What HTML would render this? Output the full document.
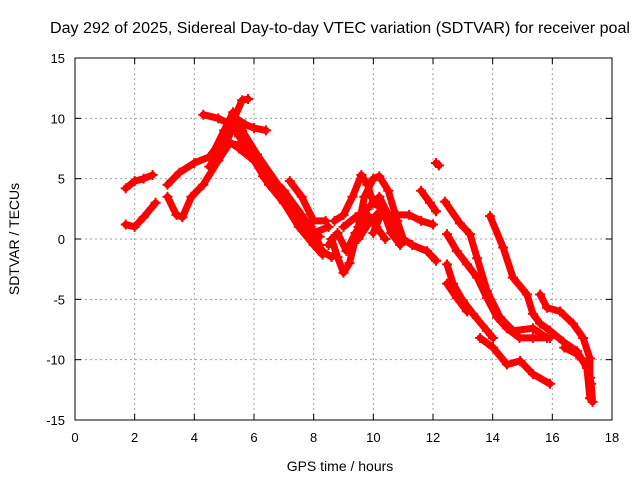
<!DOCTYPE html>
<html><head><meta charset="utf-8">
<style>
body{margin:0;background:#fff;}
svg{display:block;font-family:"Liberation Sans",sans-serif;}
</style></head>
<body>
<svg id="chart" width="640" height="480" viewBox="0 0 640 480">
<rect width="640" height="480" fill="#fff"/>
<text x="340" y="33" font-size="15.5" text-anchor="middle" textLength="580" lengthAdjust="spacingAndGlyphs">Day 292 of 2025, Sidereal Day-to-day VTEC variation (SDTVAR) for receiver poal</text>
<g id="grid"></g>
<g id="marks"></g>
<rect x="75" y="58" width="537" height="362" fill="none" stroke="#000" stroke-width="1"/>
<g id="ticks"></g>
<text x="340" y="471" font-size="14" text-anchor="middle">GPS time / hours</text>
<text x="19" y="239" font-size="14" text-anchor="middle" transform="rotate(-90 19 239)">SDTVAR / TECUs</text>
</svg>
<script>
const xTicks=[0,2,4,6,8,10,12,14,16,18];
const yTicks=[-15,-10,-5,0,5,10,15];
const trackA=[[1.7,4.2],[2.0,4.8],[2.3,5.0],[2.6,5.3]];
const trackB=[[1.7,1.2],[2.0,1.0],[2.3,1.8],[2.7,3.0]];
const trackC=[[3.1,4.5],[3.5,5.5],[4.0,6.3],[4.5,6.8],[5.0,8.5],[5.3,9.8],[5.6,11.5],[5.8,11.6]];
const trackD=[[3.1,3.5],[3.4,2.0],[3.6,1.8],[3.9,3.5],[4.3,4.5],[4.8,6.5],[5.2,8.0],[5.5,7.5],[6.0,6.5],[6.5,5.0],[7.0,3.5],[7.5,2.0],[8.0,0.0],[8.3,-1.0],[8.6,-1.5]];
const trackE=[[4.5,6.0],[5.0,7.5],[5.4,10.0],[5.7,9.5],[6.0,9.2],[6.4,9.0]];
const trackF=[[4.3,10.3],[4.8,10.0],[5.2,9.5],[5.5,8.5],[6.0,6.5],[6.5,4.5],[7.0,3.0],[7.5,1.0],[8.0,-0.5],[8.3,-1.3]];
const trackG=[[5.0,8.0],[5.5,7.8],[6.2,6.0],[7.0,4.0],[7.6,2.0],[8.0,0.5],[8.5,1.0]];
const trackH=[[7.2,4.8],[7.6,3.5],[8.0,1.5],[8.4,1.5]];
const trackI=[[6.3,5.2],[7.0,3.0],[7.6,1.5],[8.2,0.2]];
const trackI2=[[4.6,7.0],[5.0,9.0],[5.3,10.5],[5.6,9.0],[6.1,7.0],[6.8,4.5],[7.4,2.5],[7.9,1.0],[8.2,-0.5]];
const trackJ=[[8.6,0.0],[8.8,-1.5],[9.0,-2.8],[9.2,-2.0],[9.5,1.0],[9.7,3.5],[10.0,5.0],[10.2,5.2],[10.5,4.0],[10.8,1.5],[11.0,0.0],[11.3,-0.5],[11.8,-1.0],[12.1,-1.8]];
const trackK=[[8.7,1.5],[9.0,2.0],[9.3,3.5],[9.6,5.3],[9.8,4.5],[10.0,3.0],[10.3,2.5],[10.7,1.0],[11.0,0.0]];
const trackL=[[9.0,1.0],[9.4,1.8],[9.8,2.5],[10.2,3.5],[10.5,2.0],[10.8,2.0],[11.2,2.0],[11.6,1.5],[12.0,1.2]];
const trackM=[[9.5,0.0],[9.9,1.5],[10.3,2.5],[10.6,0.5],[10.9,-0.5]];
const trackN=[[10.0,0.5],[10.3,2.3],[10.7,0.5]];
const trackN2=[[8.5,-0.5],[8.8,0.5],[9.1,-1.0],[9.4,0.5],[9.8,2.0],[10.1,1.0],[10.4,0.0]];
const trackO=[[11.6,4.0],[11.9,3.0],[12.1,2.3]];
const trackP=[[12.1,6.3],[12.2,6.1]];
const trackQ=[[12.4,3.1],[12.9,1.3],[13.24,0.4],[13.48,-1.6],[13.81,-4.3],[14.25,-6.5],[14.68,-7.6],[15.35,-7.4],[15.82,-8.2]];
const trackR=[[13.91,1.9],[14.35,-0.7],[14.68,-3.2],[15.15,-4.6],[15.35,-6.2],[15.59,-7.0],[15.92,-7.6],[16.36,-8.5],[16.83,-9.3],[17.16,-10.7],[17.26,-13.2]];
const trackS=[[12.47,0.4],[12.8,-1.0],[13.14,-2.1],[13.48,-3.2],[13.81,-4.9],[14.15,-6.5],[14.48,-7.4],[14.9,-8.2],[15.35,-8.2],[15.92,-8.2]];
const trackT=[[12.47,-2.1],[12.67,-3.7],[13.0,-5.1],[13.34,-6.2],[13.81,-7.6],[14.01,-8.2]];
const trackU=[[12.47,-3.7],[12.8,-4.9],[13.14,-6.0]];
const trackV=[[13.58,-8.2],[14.01,-9.0],[14.48,-10.4],[14.92,-10.1],[15.35,-11.2],[15.92,-12.0]];
const trackW=[[15.59,-4.6],[15.82,-5.7],[16.26,-6.0],[16.69,-7.0],[17.03,-8.2],[17.26,-9.9],[17.26,-11.5]];
const trackX=[[16.4,-9.0],[16.8,-9.5],[17.0,-10.0],[17.2,-10.5],[17.3,-12.0],[17.35,-13.5]];
const tracks=[trackA,trackB,trackC,trackD,trackE,trackF,trackG,trackH,trackI,trackI2,trackJ,trackK,trackL,trackM,trackN,trackN2,trackO,trackP,trackQ,trackR,trackS,trackT,trackU,trackV,trackW,trackX];

const X0=75,X1=612,Y0=420,Y1=58;
const xs=t=>X0+(t-0)/18*(X1-X0);
const ys=v=>Y0-(v+15)/30*(Y0-Y1);
const NS="http://www.w3.org/2000/svg";
const grid=document.getElementById('grid'),ticks=document.getElementById('ticks'),marks=document.getElementById('marks');
function mk(tag,attrs,parent){const e=document.createElementNS(NS,tag);for(const k in attrs)e.setAttribute(k,attrs[k]);parent.appendChild(e);return e;}
xTicks.forEach(t=>{
  const x=xs(t);
  if(t>0&&t<18){const g=mk('line',{x1:x,y1:Y0,x2:x,y2:Y1,stroke:'#a0a0a0','stroke-dasharray':'2,3'},grid);
  
  }
  mk('line',{x1:x,y1:Y0,x2:x,y2:Y0-6,stroke:'#000'},ticks);
  mk('line',{x1:x,y1:Y1,x2:x,y2:Y1+6,stroke:'#000'},ticks);
  const tx=mk('text',{x:x,y:Y0+22,'font-size':13,'text-anchor':'middle'},ticks);
  tx.textContent=t;
  
  
});
yTicks.forEach(v=>{
  const y=ys(v);
  if(v>-15&&v<15){const g=mk('line',{x1:X0,y1:y,x2:X1,y2:y,stroke:'#a0a0a0','stroke-dasharray':'2,3'},grid);
  
  }
  mk('line',{x1:X0,y1:y,x2:X0+6,y2:y,stroke:'#000'},ticks);
  mk('line',{x1:X1,y1:y,x2:X1-6,y2:y,stroke:'#000'},ticks);
  const tx=mk('text',{x:X0-10,y:y+5,'font-size':13,'text-anchor':'end'},ticks);
  tx.textContent=v;
  
  
});
tracks.forEach((tr,i)=>{
  const g=mk('g',{},marks);
  
  
  const pts=tr.map(p=>xs(p[0]).toFixed(1)+','+ys(p[1]).toFixed(1)).join(' ');
  mk('polyline',{points:pts,fill:'none',stroke:'#ff0000','stroke-width':7,'stroke-linejoin':'round','stroke-linecap':'round'},g);
  tr.forEach(p=>{
    const x=xs(p[0]),y=ys(p[1]);
    mk('path',{d:`M${x-5},${y}H${x+5}M${x},${y-5}V${y+5}`,stroke:'#ff0000','stroke-width':2},g);
  });
});
</script>
</body></html>
